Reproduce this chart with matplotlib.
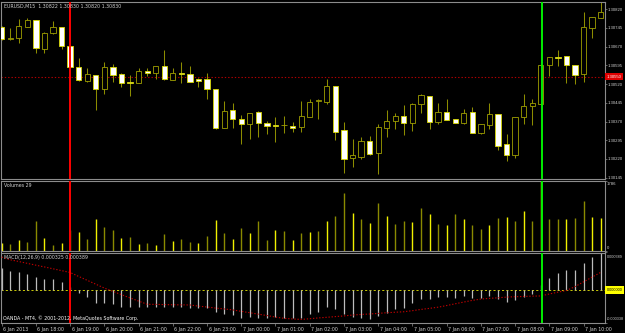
import matplotlib
matplotlib.use("Agg")
import matplotlib.pyplot as plt
import matplotlib.transforms as mtransforms

# ---------------- data ----------------
title_text = "EURUSD,M15  1.30822 1.30830 1.30820 1.30830"
volume_title = "Volumes 29"
macd_title = "MACD(12,26,9) 0.000325 0.000389"
copyright_text = "OANDA - MT4, \u00a9 2001-2012, MetaQuotes Software Corp."

open_ = [1.30749, 1.30701, 1.30703, 1.30747, 1.30775, 1.30660, 1.30723, 1.30747, 1.30672, 1.30589,
         1.30531, 1.30557, 1.30501, 1.30589, 1.30560, 1.30527, 1.30525, 1.30572, 1.30563, 1.30592,
         1.30537, 1.30564, 1.30560, 1.30539, 1.30540, 1.30499, 1.30345, 1.30417, 1.30380, 1.30360,
         1.30407, 1.30365, 1.30356, 1.30355, 1.30351, 1.30347, 1.30389, 1.30451, 1.30449, 1.30513,
         1.30335, 1.30224, 1.30229, 1.30292, 1.30243, 1.30343, 1.30371, 1.30391, 1.30363, 1.30439,
         1.30472, 1.30369, 1.30407, 1.30379, 1.30365, 1.30407, 1.30323, 1.30356, 1.30400, 1.30279,
         1.30236, 1.30387, 1.30432, 1.30441, 1.30595, 1.30628, 1.30633, 1.30597, 1.30560, 1.30743,
         1.30783]
high = [1.30752, 1.30744, 1.30780, 1.30783, 1.30776, 1.30727, 1.30772, 1.30748, 1.30676, 1.30624,
        1.30583, 1.30558, 1.30607, 1.30600, 1.30564, 1.30556, 1.30583, 1.30583, 1.30592, 1.30656,
        1.30583, 1.30607, 1.30593, 1.30545, 1.30565, 1.30499, 1.30452, 1.30445, 1.30396, 1.30404,
        1.30412, 1.30372, 1.30387, 1.30392, 1.30369, 1.30452, 1.30460, 1.30460, 1.30541, 1.30513,
        1.30369, 1.30299, 1.30309, 1.30312, 1.30360, 1.30415, 1.30404, 1.30435, 1.30443, 1.30481,
        1.30472, 1.30445, 1.30459, 1.30379, 1.30421, 1.30427, 1.30360, 1.30443, 1.30400, 1.30319,
        1.30389, 1.30479, 1.30460, 1.30647, 1.30629, 1.30657, 1.30633, 1.30597, 1.30807, 1.30789,
        1.30852]
low = [1.30696, 1.30698, 1.30685, 1.30747, 1.30643, 1.30643, 1.30722, 1.30660, 1.30586, 1.30532,
       1.30530, 1.30416, 1.30479, 1.30529, 1.30509, 1.30472, 1.30525, 1.30552, 1.30539, 1.30538,
       1.30537, 1.30525, 1.30529, 1.30509, 1.30459, 1.30339, 1.30345, 1.30345, 1.30279, 1.30301,
       1.30309, 1.30319, 1.30287, 1.30325, 1.30328, 1.30327, 1.30389, 1.30380, 1.30441, 1.30295,
       1.30165, 1.30189, 1.30219, 1.30236, 1.30159, 1.30309, 1.30339, 1.30316, 1.30331, 1.30403,
       1.30339, 1.30360, 1.30376, 1.30365, 1.30360, 1.30323, 1.30320, 1.30339, 1.30256, 1.30213,
       1.30225, 1.30360, 1.30356, 1.30441, 1.30553, 1.30593, 1.30523, 1.30519, 1.30527, 1.30703,
       1.30783]
close = [1.30700, 1.30702, 1.30752, 1.30776, 1.30663, 1.30724, 1.30749, 1.30672, 1.30587, 1.30535,
         1.30560, 1.30500, 1.30587, 1.30557, 1.30523, 1.30526, 1.30571, 1.30563, 1.30592, 1.30539,
         1.30564, 1.30560, 1.30529, 1.30531, 1.30499, 1.30345, 1.30413, 1.30380, 1.30360, 1.30403,
         1.30363, 1.30352, 1.30352, 1.30356, 1.30345, 1.30391, 1.30447, 1.30456, 1.30513, 1.30329,
         1.30221, 1.30236, 1.30291, 1.30241, 1.30347, 1.30371, 1.30391, 1.30363, 1.30439, 1.30475,
         1.30369, 1.30407, 1.30376, 1.30365, 1.30403, 1.30323, 1.30360, 1.30399, 1.30272, 1.30236,
         1.30389, 1.30431, 1.30445, 1.30596, 1.30629, 1.30626, 1.30595, 1.30556, 1.30747, 1.30787,
         1.30809]

volume = [209, 169, 277, 219, 755, 319, 143, 209, 528, 485,
          302, 812, 604, 528, 319, 352, 176, 201, 151, 420,
          252, 302, 226, 201, 377, 780, 453, 302, 578, 460,
          755, 277, 521, 503, 277, 453, 478, 503, 772, 888,
          1476, 973, 805, 722, 1207, 880, 687, 772, 729, 1099,
          948, 687, 654, 931, 805, 654, 553, 654, 830, 855,
          772, 1006, 755, 1786, 805, 805, 805, 837, 1275, 855,
          837]
volume_bright = "YOYOOYOYOYOYOOYOYOYOYOOYOYOYOYOOYOYOYOYOOYOYOYOOYOYOYOYOOYOYOYOYOOY" + "OOY"

macd_main = [228, 197, 183, 169, 135, 117, 114, 83, 37, -31,
             -73, -129, -135, -145, -170, -176, -170, -173, -170, -176,
             -176, -176, -181, -187, -187, -222, -246, -256, -290, -274,
             -290, -290, -274, -290, -290, -290, -246, -222, -170, -197,
             -246, -274, -284, -298, -267, -239, -197, -187, -135, -90,
             -93, -73, -66, -77, -56, -77, -83, -59, -90, -124,
             -101, -66, -35, 55, 124, 176, 211, 211, 280, 342,
             390]  # x 1e-6
macd_signal = [342, 314, 296, 277, 258, 240, 221, 202, 183, 142,
               102, 62, 22, -12, -46, -79, -112, -145, -146, -148,
               -150, -151, -152, -164, -173, -184, -193, -203, -218, -232,
               -247, -261, -277, -290, -296, -301, -294, -286, -279, -272,
               -265, -256, -250, -245, -239, -232, -227, -222, -211, -198,
               -187, -175, -158, -140, -122, -105, -91, -84, -78, -71,
               -67, -64, -61, -59, -39, -20, -3, 37, 86, 135,
               184]  # x 1e-6

time_ticks = [0, 4, 8, 12, 16, 20, 24, 28, 32, 36, 40, 44, 48, 52, 56, 60, 64, 68]
time_labels = ["6 Jan 2013", "6 Jan 18:00", "6 Jan 19:00", "6 Jan 20:00", "6 Jan 21:00",
               "6 Jan 22:00", "6 Jan 23:00", "7 Jan 00:00", "7 Jan 01:00", "7 Jan 02:00",
               "7 Jan 03:00", "7 Jan 04:00", "7 Jan 05:00", "7 Jan 06:00", "7 Jan 07:00",
               "7 Jan 08:00", "7 Jan 09:00", "7 Jan 10:00"]

price_ticks = [1.30145, 1.30220, 1.30295, 1.30370, 1.30445, 1.30520, 1.30595, 1.30670, 1.30745, 1.30820]
hline_price = 1.30550
red_vline_bar = 8
green_vline_bar = 63.1
volume_max = 1786
macd_top = 389
macd_bottom = -338

# ---------------- drawing ----------------
W, H = 625, 333
fig = plt.figure(figsize=(W / 100, H / 100), dpi=100, facecolor="black")


def rect(x0, y0, x1, y1):
    return [x0 / W, 1 - y1 / H, (x1 - x0) / W, (y1 - y0) / H]


ax_p = fig.add_axes(rect(1.5, 1.5, 605, 179))
ax_v = fig.add_axes(rect(1.5, 180.5, 605, 251))
ax_m = fig.add_axes(rect(1.5, 252.5, 605, 323))

FS = 3.4
AFS = 3.1    # right axis labels (narrow font so they fit)
MFS = 2.7    # longer MACD scale labels
AX_FONT = "Liberation Sans"
LBL = "#d0d0d0"
SP = "#8c8c8c"

for ax in (ax_p, ax_v, ax_m):
    ax.set_facecolor("black")
    ax.set_xlim(-0.023, 70.51)
    for s in ax.spines.values():
        s.set_color(SP)
        s.set_linewidth(0.8)
    ax.tick_params(axis="x", which="both", bottom=False, top=False, labelbottom=False)
    ax.tick_params(axis="y", which="both", left=False, labelleft=False, right=True,
                   labelright=True, direction="out", length=1.5, width=0.5, color=SP,
                   labelsize=AFS, labelcolor=LBL, pad=0.6)
    ax.axvline(red_vline_bar, color="#ff0000", lw=1.4, zorder=5)
    ax.axvline(green_vline_bar, color="#00ee00", lw=1.4, zorder=5)

# ---- price panel ----
n = len(open_)
xs = list(range(n))
wick_c = "#8c8c00"
ax_p.vlines(xs, low, high, color=wick_c, lw=0.75, zorder=2)
for i in range(n):
    o, c = open_[i], close[i]
    bottom = min(o, c)
    h = max(abs(c - o), 0.00002)
    if c >= o:
        fc, ec = "black", "#a0a000"
    else:
        fc, ec = "white", "#d8d800"
    ax_p.bar(i, h, bottom=bottom, width=0.62, facecolor=fc, edgecolor=ec, linewidth=0.6, zorder=3)

ax_p.set_ylim(1.30140, 1.30850)
ax_p.set_yticks(price_ticks)
ax_p.set_yticklabels(["%.5f" % p for p in price_ticks], fontfamily=AX_FONT)
ax_p.axhline(hline_price, color="#b40000", lw=0.8, ls=(0, (1.2, 1.8)), zorder=1)
ax_p.annotate("%.5f" % hline_price, xy=(1, hline_price), xycoords=("axes fraction", "data"),
              xytext=(1.2, 0), textcoords="offset points", va="center", ha="left",
              fontsize=AFS, fontfamily=AX_FONT, color="white", annotation_clip=False,
              bbox=dict(boxstyle="square,pad=0.45", fc="#e00000", ec="none"))

# ---- volume panel ----
vcols = ["#f0f000" if f == "Y" else "#8a8a00" for f in volume_bright]
ax_v.vlines(xs, 0, volume, colors=vcols, lw=1.0, zorder=2)
ax_v.set_ylim(0, volume_max)
ax_v.set_yticks([0, volume_max])
ax_v.set_yticklabels([])
ax_v.annotate(str(volume_max), xy=(1, volume_max), xycoords=("axes fraction", "data"),
              xytext=(1.4, -2.6), textcoords="offset points", va="center", ha="left",
              fontsize=AFS, fontfamily=AX_FONT, color=LBL, annotation_clip=False)
ax_v.annotate("0", xy=(1, 0), xycoords=("axes fraction", "data"),
              xytext=(1.4, 2.4), textcoords="offset points", va="center", ha="left",
              fontsize=AFS, fontfamily=AX_FONT, color=LBL, annotation_clip=False)

# ---- MACD panel ----
mm = [v * 1e-6 for v in macd_main]
ms = [v * 1e-6 for v in macd_signal]
ax_m.vlines(xs, 0, mm, color="#bcbcbc", lw=0.9, zorder=2)
ax_m.plot(xs, ms, color="#c00000", lw=0.8, ls=(0, (1.2, 1.6)), zorder=3)
ax_m.axhline(0, color="#c8c800", lw=0.7, ls=(0, (2.2, 2.2)), zorder=1)
ax_m.set_ylim(macd_bottom * 1e-6, macd_top * 1e-6)
ax_m.set_yticks([macd_bottom * 1e-6, 0, macd_top * 1e-6])
ax_m.set_yticklabels([])
ax_m.annotate("%.6f" % (macd_top * 1e-6), xy=(1, macd_top * 1e-6), xycoords=("axes fraction", "data"),
              xytext=(1.4, -3.0), textcoords="offset points", va="center", ha="left",
              fontsize=MFS, fontfamily=AX_FONT, color=LBL, annotation_clip=False)
ax_m.annotate("%.6f" % (macd_bottom * 1e-6), xy=(1, macd_bottom * 1e-6), xycoords=("axes fraction", "data"),
              xytext=(1.0, 2.7), textcoords="offset points", va="center", ha="left",
              fontsize=MFS, fontfamily=AX_FONT, color=LBL, annotation_clip=False)
ax_m.annotate("0.000000", xy=(1, 0), xycoords=("axes fraction", "data"),
              xytext=(1.2, 0), textcoords="offset points", va="center", ha="left",
              fontsize=MFS, fontfamily=AX_FONT, color="black", annotation_clip=False,
              bbox=dict(boxstyle="square,pad=0.5", fc="#ffff00", ec="none"))

ax_m.tick_params(axis="x", which="both", bottom=True, labelbottom=True, direction="out",
                 length=2, width=0.5, color=SP, labelsize=FS, labelcolor=LBL, pad=0.6)
ax_m.set_xticks(time_ticks)
ax_m.set_xticklabels(time_labels)
off = mtransforms.ScaledTranslation(1.5 / 100, 0, fig.dpi_scale_trans)
for lab in ax_m.get_xticklabels():
    lab.set_ha("left")
    lab.set_transform(lab.get_transform() + off)


# ---- header texts ----
def ftext(x, y, s, color=LBL):
    fig.text(x / W, 1 - y / H, s, fontsize=FS, color=color, va="center", ha="left")


ftext(4, 6, title_text)
ftext(4, 186, volume_title)
ftext(4, 257, macd_title)
ftext(3, 318, copyright_text, color="#ffffff")

fig.savefig("out.png", dpi=100, facecolor="black")
